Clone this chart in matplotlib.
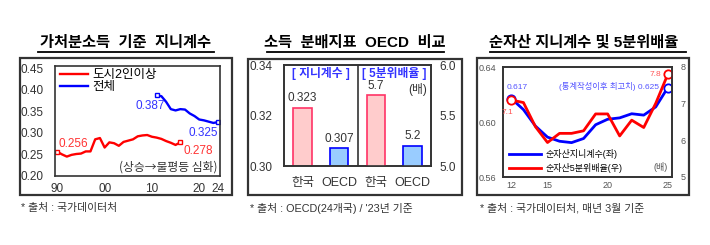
import matplotlib
matplotlib.use("Agg")
import matplotlib.pyplot as plt
from matplotlib.patches import Rectangle
from matplotlib.lines import Line2D

plt.rcParams['font.family'] = ['Liberation Sans', 'Noto Sans CJK KR', 'DejaVu Sans']
plt.rcParams['axes.unicode_minus'] = False

# ---------------- data ----------------
# Panel 1: disposable-income Gini
urban_years = list(range(1990, 2017))
urban_gini = [0.256, 0.250, 0.245, 0.249, 0.251, 0.252, 0.257, 0.257, 0.285, 0.288,
              0.266, 0.278, 0.276, 0.270, 0.279, 0.282, 0.285, 0.292, 0.294, 0.295,
              0.291, 0.289, 0.286, 0.281, 0.277, 0.272, 0.278]
total_years = list(range(2011, 2025))
total_gini = [0.387, 0.385, 0.372, 0.355, 0.352, 0.355, 0.354, 0.345, 0.339, 0.331,
              0.329, 0.326, 0.323, 0.325]
p1_xticks = [1990, 2000, 2010, 2020, 2024]
p1_xlabels = ['90', '00', '10', '20', '24']
p1_yticks = [0.20, 0.25, 0.30, 0.35, 0.40, 0.45]

# Panel 2: OECD comparison
p2_cats = ['한국', 'OECD', '한국', 'OECD']
gini_vals = [0.323, 0.307]
quint_vals = [5.7, 5.2]
p2_left_ticks = [0.30, 0.32, 0.34]
p2_right_ticks = [5.0, 5.5, 6.0]

# Panel 3: net-asset Gini and quintile ratio
asset_years = list(range(12, 26))
asset_gini = [0.617, 0.609, 0.597, 0.589, 0.586, 0.585, 0.588, 0.598, 0.602, 0.603,
              0.606, 0.605, 0.611, 0.625]
asset_ratio = [7.1, 7.03, 6.37, 5.94, 6.19, 6.19, 6.26, 6.72, 6.72, 6.12,
               6.55, 6.35, 7.01, 7.8]
p3_xticks = [12, 15, 20, 25]
p3_left_ticks = [0.56, 0.60, 0.64]
p3_right_ticks = [5, 6, 7, 8]

# ---------------- layout helpers ----------------
W, H = 710, 245
fig = plt.figure(figsize=(W / 100, H / 100), dpi=100)
fig.patch.set_facecolor('white')
KR = ['Noto Sans CJK KR', 'DejaVu Sans']


def fx(px):
    return px / W


def fy(py):
    return 1 - py / H


def axes_px(x0, y0, x1, y1):
    return fig.add_axes([fx(x0), fy(y1), (x1 - x0) / W, (y1 - y0) / H])


def box(x0, y0, x1, y1):
    fig.add_artist(Rectangle((fx(x0), fy(y1)), (x1 - x0) / W, (y1 - y0) / H,
                             transform=fig.transFigure, fill=False,
                             ec='#333333', lw=1.6))


def title(cx, text, ux0, ux1):
    fig.text(fx(cx), fy(43), text, ha='center', va='center', fontsize=11,
             fontweight='bold', color='black')
    fig.add_artist(Line2D([fx(ux0), fx(ux1)], [fy(52.5), fy(52.5)],
                          transform=fig.transFigure, color='black', lw=1.3))


def footnote(x, text):
    fig.text(fx(x), fy(208), text, ha='left', va='center', fontsize=7.8,
             color='#333333')


def style_spines(ax, c='#333333', lw=1.2):
    for s in ax.spines.values():
        s.set_color(c)
        s.set_linewidth(lw)


RED = '#FF0000'
BLUE = '#0000FF'

# ---------------- Panel 1 ----------------
box(20, 58, 232, 195)
title(125.5, '가처분소득  기준  지니계수', 38, 214)
footnote(21, '* 출처 : 국가데이터처')

ax1 = axes_px(55, 66, 220, 176)
ax1.plot(urban_years, urban_gini, color=RED, lw=1.7, label='도시2인이상')
ax1.plot(total_years, total_gini, color=BLUE, lw=1.7, label='전체')
for xs, ys, c in [(urban_years, urban_gini, RED), (total_years, total_gini, BLUE)]:
    ax1.plot([xs[0], xs[-1]], [ys[0], ys[-1]], ls='none', marker='s', ms=3.5,
             mfc='white', mec=c, mew=1.0)
ax1.set_xlim(1989.5, 2024.4)
ax1.set_ylim(0.20, 0.455)
ax1.set_yticks(p1_yticks)
ax1.set_yticklabels([f'{v:.2f}' for v in p1_yticks])
ax1.set_xticks(p1_xticks)
ax1.set_xticklabels(p1_xlabels)
ax1.tick_params(length=0, labelsize=8.5, colors='#333333')
ax1.tick_params(axis='y', pad=8.5)
ax1.tick_params(axis='x', pad=5)
style_spines(ax1)
ax1.legend(loc='upper left', bbox_to_anchor=(0.02, 0.98), frameon=False,
           fontsize=9, handlelength=2.3, handletextpad=0.3, labelspacing=0.0,
           borderpad=0.1, borderaxespad=0)

lbl = dict(fontsize=8.5, textcoords='offset points')
ax1.annotate(f'{urban_gini[0]:.3f}', (urban_years[0], urban_gini[0]), xytext=(1, 6),
             ha='left', va='center', color='#FF3333', **lbl)
ax1.annotate(f'{urban_gini[-1]:.3f}', (urban_years[-1], urban_gini[-1]), xytext=(2, -6),
             ha='left', va='center', color='#FF3333', **lbl)
ax1.annotate(f'{total_gini[0]:.3f}', (total_years[0], total_gini[0]), xytext=(6, -8),
             ha='right', va='center', color='#3333FF', **lbl)
ax1.annotate(f'{total_gini[-1]:.3f}', (total_years[-1], total_gini[-1]), xytext=(0, -8),
             ha='right', va='center', color='#3333FF', **lbl)
ax1.text(0.985, 0.08, '(상승→불평등 심화)', transform=ax1.transAxes, ha='right',
         va='center', fontsize=8.5, color='#333333', family=KR)

# ---------------- Panel 2 ----------------
box(248, 59, 462, 195)
title(355, '소득  분배지표  OECD  비교', 267, 444)
footnote(250, "* 출처 : OECD(24개국) / '23년 기준")

ax2 = axes_px(284, 65, 431, 166)
ax2r = ax2.twinx()
pos = [0.5, 1.5, 2.5, 3.5]
pink_fc, pink_ec = '#FFCCCC', '#FF3366'
blue_fc, blue_ec = '#99CCFF', '#0000FF'
ax2.bar(pos[:2], gini_vals, width=0.5,
        color=[pink_fc, blue_fc], edgecolor=[pink_ec, blue_ec], lw=1.2)
ax2r.bar(pos[2:], quint_vals, width=0.5,
         color=[pink_fc, blue_fc], edgecolor=[pink_ec, blue_ec], lw=1.2)
ax2.set_xlim(0, 4)
ax2.set_ylim(0.30, 0.34)
ax2r.set_ylim(5.0, 6.0)
ax2.axvline(2, color='#333333', lw=1.2)
ax2.set_yticks(p2_left_ticks)
ax2.set_yticklabels([f'{v:.2f}' for v in p2_left_ticks])
ax2r.set_yticks(p2_right_ticks)
ax2r.set_yticklabels([f'{v:.1f}' for v in p2_right_ticks])
ax2.set_xticks(pos)
ax2.set_xticklabels(p2_cats)
ax2.tick_params(length=0, labelsize=8.5, colors='#333333')
ax2.tick_params(axis='y', pad=8.5)
ax2.tick_params(axis='x', pad=8, labelsize=9)
ax2r.tick_params(length=0, labelsize=8.5, colors='#333333', pad=6)
style_spines(ax2)
style_spines(ax2r)
for p, v in zip(pos[:2], gini_vals):
    ax2.annotate(f'{v:.3f}', (p, v), xytext=(0, 7), textcoords='offset points',
                 ha='center', va='center', fontsize=8.5, color='#333333')
for p, v in zip(pos[2:], quint_vals):
    ax2r.annotate(f'{v:.1f}', (p, v), xytext=(0, 7), textcoords='offset points',
                  ha='center', va='center', fontsize=8.5, color='#333333')
ax2.text(1.0, 0.92, '[ 지니계수 ]', transform=ax2.get_xaxis_transform(),
         ha='center', va='center', fontsize=8.5, fontweight='bold', color='#3333FF')
ax2.text(3.0, 0.92, '[ 5분위배율 ]', transform=ax2.get_xaxis_transform(),
         ha='center', va='center', fontsize=8.5, fontweight='bold', color='#3333FF')
ax2.text(3.65, 0.755, '(배)', transform=ax2.get_xaxis_transform(),
         ha='center', va='center', fontsize=8.5, color='#333333')

# ---------------- Panel 3 ----------------
box(477, 58, 689, 195)
title(584, '순자산 지니계수 및 5분위배율', 490, 686)
footnote(480, '* 출처 : 국가데이터처, 매년 3월 기준')

ax3 = axes_px(503, 67, 672, 177)
ax3r = ax3.twinx()
l1, = ax3.plot(asset_years, asset_gini, color=BLUE, lw=2.0, label='순자산지니계수(좌)')
l2, = ax3r.plot(asset_years, asset_ratio, color=RED, lw=2.0, label='순자산5분위배율(우)')
ax3.plot([asset_years[0], asset_years[-1]], [asset_gini[0], asset_gini[-1]], ls='none',
         marker='o', ms=6, mfc='white', mec=BLUE, mew=1.3)
ax3r.plot([asset_years[0], asset_years[-1]], [asset_ratio[0], asset_ratio[-1]], ls='none',
          marker='o', ms=6, mfc='white', mec=RED, mew=1.3)
ax3.set_xlim(11.3, 25.35)
ax3.set_ylim(0.56, 0.64)
ax3r.set_ylim(5, 8)
ax3.set_xticks(p3_xticks)
ax3.set_xticklabels([str(v) for v in p3_xticks])
ax3.set_yticks(p3_left_ticks)
ax3.set_yticklabels([f'{v:.2f}' for v in p3_left_ticks])
ax3r.set_yticks(p3_right_ticks)
ax3r.set_yticklabels([str(v) for v in p3_right_ticks])
ax3.tick_params(length=0, labelsize=6.5, colors='#555555')
ax3.tick_params(axis='y', pad=5)
ax3.tick_params(axis='x', pad=3)
ax3r.tick_params(length=0, labelsize=6.5, colors='#555555', pad=6)
style_spines(ax3)
style_spines(ax3r)
ax3.legend(handles=[l1, l2], loc='lower left', bbox_to_anchor=(0.03, 0.03),
           frameon=False, fontsize=6.5, handlelength=3.6, handletextpad=0.4,
           labelspacing=0.45, borderpad=0.1, borderaxespad=0)
ax3.text(0.975, 0.09, '(배)', transform=ax3.transAxes, ha='right', va='center',
         fontsize=6.5, color='#555555')
ax3.annotate(f'{asset_gini[0]:.3f}', (asset_years[0], asset_gini[0]), xytext=(4, 8),
             textcoords='offset points', ha='center', va='center', fontsize=6,
             color='#5555FF')
ax3.annotate(f'(통계작성이후 최고치) {asset_gini[-1]:.3f}', (asset_years[-1], asset_gini[-1]),
             xytext=(-6, 1), textcoords='offset points', ha='right', va='center',
             fontsize=6, color='#5555FF')
ax3r.annotate(f'{asset_ratio[0]:.1f}', (asset_years[0], asset_ratio[0]), xytext=(-3, -9),
              textcoords='offset points', ha='center', va='center', fontsize=6,
              color='#FF5555')
ax3r.annotate(f'{asset_ratio[-1]:.1f}', (asset_years[-1], asset_ratio[-1]), xytext=(-5, 0),
              textcoords='offset points', ha='right', va='center', fontsize=6,
              color='#FF5555')

fig.savefig('out.png', dpi=100, facecolor='white')
